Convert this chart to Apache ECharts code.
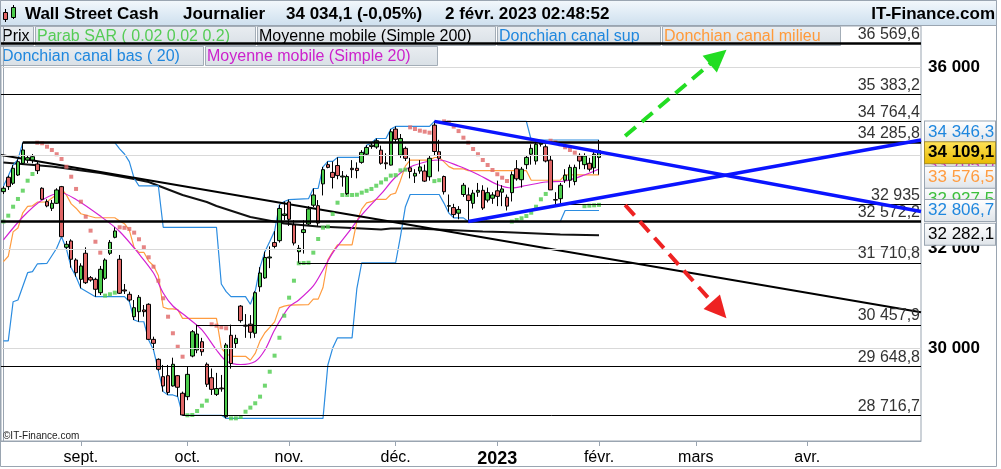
<!DOCTYPE html>
<html><head><meta charset="utf-8">
<script src="https://cdn.jsdelivr.net/npm/echarts@6/dist/echarts.min.js"></script>
<style>html,body{margin:0;padding:0;background:#fff}#c{width:1001px;height:469px}</style>
</head><body><div id="c"></div>
<script>
// ---------- DATA ----------
const firstDay = '2022-08-10';
const lastDay = '2023-05-04';
const closedDays = ['2022-12-26', '2023-01-02'];
const monthNames = ['2023', 'févr.', 'mars', 'avr.', 'mai', 'juin', 'juil.', 'août', 'sept.', 'oct.', 'nov.', 'déc.'];

const open = [33212,33523,33393,33573,33829,33902,33902,33814,33285,32996,32854,32961,33320,32032,32163,31768,31371,31907,31405,31371,
31100,31391,31907,32240,31783,31155,31067,30618,30718,30752,30866,30170,29781,29447,29466,29270,29466,29131,29067,29845,
29962,30124,29685,29427,29110,29230,28690,30250,30090,30830,30450,30470,30290,31220,31400,31810,32130,32170,32700,32990,
32500,31940,32340,32520,32920,32910,33380,33800,33630,33780,33530,33170,33720,33720,33850,34030,34200,34190,34120,33840,
33790,34590,34010,34160,33730,33550,33660,33660,33535,34680,34085,33540,32900,32870,32750,33150,33140,32960,33200,33240,
33030,33070,33230,33200,33090,33190,33710,33470,33800,34030,33880,34250,34195,33900,33040,33060,33460,33460,33430,33990,
33800,33830,33730,33960];
const close = [33285,33320,33720,33865,34124,33953,33975,33668,33047,32904,32961,33248,32253,32094,31783,31507,31645,31302,31357,31169,
31577,31768,32135,32373,31088,31135,30952,30798,31007,30718,30170,30092,29589,29270,29147,29685,29245,28723,29491,30320,
30275,29929,29302,29205,29220,29215,30060,29700,30190,30540,30430,30310,31100,31500,31820,31830,32050,32850,32733,32620,
32120,32010,32400,32840,33140,32540,33690,33740,33520,33560,33550,33540,33690,33670,34070,34180,34230,34330,33830,33820,
34530,34360,34380,33940,33650,33610,33750,33440,33940,34090,33940,33210,32910,32720,32830,33350,33020,33180,33240,32860,
33190,33140,33110,33270,32900,33580,33490,33700,33960,34160,34250,34280,33880,33250,33030,33350,33570,33740,33740,33880,
33990,33700,34030,34109.1];
const low = [33160,33250,33356,33551,33800,33836,33829,33595,33032,32876,32797,32946,32253,31997,31610,31425,31189,31276,31323,31019,
31053,31357,31872,32219,31074,31074,30918,30552,30518,30618,30157,29962,29563,29162,29099,29257,29067,28716.7,29000,29820,
29900,29850,29251,29099,29080,29160,28660,29600,30000,30500,30200,30190,30200,31120,31380,31600,32010,32130,32600,32480,
32070,31710.8,31900,32500,32880,32480,33130,33720,33280,33480,33320,33140,33510,33500,33820,34000,34150,34150,33800,33700,
33780,34300,33950,33880,33500,33400,33600,33420,33450,34000,33650,33150,32780,32650,32620,33100,32572.2,32850,33100,32820,
32980,32950,32900,32900,32806.7,33000,33450,33300,33700,33800,33800,34200,33850,33250,32935,32950,33400,33300,33350,33700,
33700,33650,33600,33580];
const high = [33330,33560,33790,33917,34285.8,34013,34035,33865,33306,33047,33032,33285,33335,32163,32199,31803,31700,32032,31439,31405,
31645,31803,32184,32451,31872,31276,31121,30952,31053,30852,30886,30223,29800,29672,29672,29813,29479,29162,29640,30354,
30457.9,30200,29720,29605,29520,29480,30100,30460,30260,30850,30670,30650,31130,31620,31940,32050,32370,32930,33000,33040,
32600,32080,32600,32900,33280,33030,33750,33870,33870,33960,33660,33580,33900,33850,34120,34230,34280,34380,34220,34050,
34590,34650,34480,34200,33950,33700,33900,33800,34000,34764.4,34350,33560,33150,32950,32900,33400,33300,33250,33400,33350,
33300,33200,33450,33350,33150,33650,33900,33750,34000,34250,34320,34330,34250,34000,33200,33400,33700,33800,33800,34050,
34050,33950,34100,34346.3];
const sar = [32572,32697,32888,33054,33233,33449,33595,34286,34273,34197,34124,34030,33924,33754,33536,33270,32996,32675,32380,32148,
31920,31040,31068,31100,32451,32440,32416,32338,32199,32032,31824,31630,31343,30987,30618,30290,30026,29832,28717,28722,
28797,28897,28991,30467,30440,30408,30389,28660,28660,28685,28784,28860,28942,29067,29275,29542,29852,30202,30638,30999,
31343,31700,31706,31711,31920,32205,32443,32464,32733,32974,33140,33140,33140,33145,33190,33230,33270,33340,33410,33480,
33560,33570,33675,33690,34630,34593,34555,34533,34510,33440,33460,34764,34741,34647,34546,34398,34286,34146,34030,33902,
33792,33683,33590,33514,33442,32572,32605,32641,32690,32760,32888,33047,33162,34330,34295,34251,34184,34124,34064,33975,
32900,32910,32918,32927.5];
// indicator lines: [candle index, value]
const ma20 = [[0,32184],[4,32668],[8,33032],[12,33183],[15,33043],[20,32689],[24,32363],[28,31893],[31,31500],[33,31094],[35,30832],
[38,30602],[41,30355],[44,29962],[46,29749],[49,29681],[52,29739],[54,29962],[56,30355],[59,30812],[61,30952],[64,31236],[66,31562],
[68,31914],[71,32310],[74,32712],[78,33162],[81,33530],[84,33749],[88,33880],[90,33902],[94,33770],[98,33585],[102,33367],[105,33291],
[108,33345],[112,33421],[116,33442],[120,33573],[123,33705]];
const ma200 = [[0,33847],[10,33759],[20,33617],[27,33486],[30,33421],[37,33140],[42,32989],[44,32904],[51,32669],[58,32531],[65,32468],
[72,32437],[78,32405],[80,32426],[85,32426],[92,32395],[99,32363],[103,32353],[115,32300],[123,32282.1]];
const donchUp = [[0,33330],[1,33550],[2,33790],[3,33917],[4,34286],[23,34286],[24,34150],[25,34035],[26,33865],[27,33500],[28,33335],
[32,33335],[33,32451],[44,32451],[45,31276],[46,31121],[47,31019],[50,31019],[51,30866],[52,31130],[53,31620],[54,31940],[55,32150],
[56,32370],[57,32930],[58,33000],[59,33040],[63,33060],[64,33280],[65,33280],[66,33750],[67,33870],[68,33870],[69,33960],[74,33960],
[75,34230],[76,34280],[77,34380],[79,34380],[80,34590],[81,34650],[88,34650],[89,34764],[108,34764],[109,34346.3],[123,34346.3]];
const donchLow = [[0,30140],[1,30140],[2,30918],[3,30952],[5,31507],[6,31528],[7,31686],[9,31700],[11,32011],[12,32253],[13,31997],
[14,31610],[15,31425],[16,31189],[19,31019],[25,31019],[26,30918],[27,30552],[28,30518],[29,30518],[30,30157],[31,29962],[32,29563],
[33,29162],[34,29099],[35,29099],[36,29067],[37,28717],[45,28717],[46,28660],[66,28660],[67,29672],[68,30000],[69,30200],[72,30200],
[73,31189],[74,31711],[81,31711],[82,32260],[83,32880],[84,33150],[90,33150],[91,32960],[92,32750],[93,32650],[95,32650],[96,32572],
[115,32572],[116,32806.7],[123,32806.7]];
const donchMid = [[0,31735],[1,31845],[2,32354],[3,32435],[4,32758],[5,32897],[6,32907],[7,32986],[9,32993],[11,33149],[12,33270],
[13,33142],[14,32948],[15,32856],[16,32738],[19,32653],[23,32653],[24,32585],[25,32527],[26,32392],[27,32026],[28,31927],[29,31927],
[30,31746],[31,31649],[32,31449],[33,30807],[34,30775],[35,30775],[36,30759],[37,30584],[44,30584],[45,29997],[46,29891],[47,29840],
[50,29840],[51,29763],[52,29895],[53,30140],[54,30300],[55,30405],[56,30515],[57,30795],[58,30830],[59,30850],[63,30860],[64,30970],
[65,30970],[66,31205],[67,31771],[68,31935],[69,32080],[72,32080],[73,32575],[74,32836],[75,32971],[76,32996],[77,33046],[79,33046],
[80,33151],[81,33181],[82,33455],[83,33765],[84,33900],[88,33900],[89,33957],[90,33957],[91,33862],[92,33757],[93,33707],[95,33707],
[96,33668],[108,33668],[109,33459],[115,33459],[116,33576.5],[123,33576.5]];
// support / resistance levels and the candle where each one starts
const levels =     [36569.6, 35383.2, 34764.4, 34285.8, 32935, 32572.2, 31710.8, 30457.9, 29648.8, 28716.7];
const levelStart = [-0.5,    -0.5,    89,      4,       114,   -0.5,    61,      40,      -0.5,    37];
const levelThick = [true,    false,   false,   true,    false, true,    false,   false,   false,   false];
// drawn trend lines [candle index, value]
const trendLine = [[-0.5, 34013], [189.5, 30708]];
const triangleTop = [[89, 34764.4], [189.5, 32786]];
const triangleBottom = [[96, 32572.2], [189.5, 34346]];
const arrowUp = [[128.4, 34436], [147.6, 36251]];
const arrowDown = [[128.4, 32925], [147.8, 30752]];
const yGridValues = [30000, 32000, 34000, 36000];
const yLabelValues = [30000, 32000, 36000];

// ---------- BUILD ----------
const F = "'Liberation Sans', Arial, Helvetica, sans-serif";
const GREEN = '#4ccc4c', RED = '#e06666', BLUE = '#2b8ce0', ORANGE = '#ff9c40', MAGENTA = '#d321d3', AXIS = '#9aa5b1';
function fmt(v, d) { const s = v.toFixed(d).split('.'); s[0] = s[0].replace(/\B(?=(\d{3})+(?!\d))/g, ' '); return s.join(','); }

const dates = [];
for (let t = Date.UTC(2022, 7, 10); t <= Date.UTC(2023, 4, 4); t += 86400000) {
  const d = new Date(t); const wd = d.getUTCDay(); const s = d.toISOString().slice(0, 10);
  if (wd === 0 || wd === 6 || closedDays.includes(s)) continue;
  dates.push(s);
}
const N = dates.length;
const isFirst = (i) => i > 0 && dates[i].slice(5, 7) !== dates[i - 1].slice(5, 7) && dates[i].slice(5, 7) !== '05';

const candles = open.map((o, i) => [o, close[i], low[i], high[i]]);
const sarData = sar.map((v, i) => ({ value: [i, v], itemStyle: { color: v < close[i] ? GREEN : RED } }));

const lastIdx = close.length - 1;
const boxBg = { type: 'linear', x: 0, y: 0, x2: 0, y2: 1, colorStops: [{ offset: 0, color: '#ffffff' }, { offset: 1, color: '#dfe4e9' }] };
function box(v, color, dy, extra) {
  return { yAxis: v, lineStyle: { color: 'rgba(0,0,0,0)', width: 0 }, label: Object.assign({
    show: true, position: 'end', distance: 4, formatter: fmt(v, 1), color: color, fontSize: 17, fontFamily: F,
    backgroundColor: boxBg, borderColor: AXIS, borderWidth: 1, padding: [2, 1, 1, 3], width: 66, lineHeight: 18,
    offset: [0, dy], align: 'left', overflow: 'none' }, extra || {}) };
}
const yellowBg = { type: 'linear', x: 0, y: 0, x2: 0, y2: 1, colorStops: [{ offset: 0, color: '#ffe45a' }, { offset: 1, color: '#e8b800' }] };

const levelLines = levels.map((v, k) => ([
  { coord: [levelStart[k], v], lineStyle: { color: '#000', width: levelThick[k] ? 2.5 : 1, type: 'solid' },
    label: { show: true, position: 'insideEndTop', distance: 1, formatter: fmt(v, Number.isInteger(v) ? 0 : 1), color: '#333', fontSize: 16, fontFamily: F } },
  { coord: [N - 0.5, v] }
]));

const gridLines = yGridValues.map(v => ({
  yAxis: v, lineStyle: { color: '#d9d9d9', width: 1, type: 'solid' },
  label: { show: yLabelValues.includes(v), position: 'end', distance: 7, formatter: fmt(v, 0), color: '#000', fontWeight: 'bold', fontSize: 17, fontFamily: F }
}));

const option = {
  animation: false,
  backgroundColor: '#fff',
  grid: { left: 1, right: 80, top: 26, bottom: 28, show: true, borderColor: AXIS, borderWidth: 1, backgroundColor: '#fff' },
  xAxis: [
    { type: 'category', data: dates, boundaryGap: true,
      axisLine: { show: true, lineStyle: { color: AXIS } },
      axisTick: { show: true, interval: (i) => isFirst(i), alignWithLabel: true, length: 5, lineStyle: { color: AXIS } },
      axisLabel: { interval: (i) => isFirst(i), margin: 9, fontSize: 16, fontFamily: F, color: '#000',
        formatter: (v) => { const m = +v.slice(5, 7); return m === 1 ? '{b|' + v.slice(0, 4) + '}' : monthNames[m - 1]; },
        rich: { b: { fontWeight: 'bold', fontSize: 18, fontFamily: F, color: '#000' } } },
      splitLine: { show: false } },
    { type: 'value', min: -0.5, max: N - 0.5, show: false }
  ],
  yAxis: { type: 'log', logBase: 10, min: 28240.6, max: 36988.8, position: 'right',
    axisLine: { show: true, lineStyle: { color: AXIS } }, axisTick: { show: false }, axisLabel: { show: false }, splitLine: { show: false } },
  series: [
    { name: 'grid', type: 'line', xAxisIndex: 1, data: [], z: 1, silent: true,
      markLine: { silent: true, symbol: 'none', animation: false, data: gridLines } },
    { name: 'MM200', type: 'line', xAxisIndex: 1, data: ma200, showSymbol: false, z: 2, lineStyle: { color: '#111', width: 2 } },
    { name: 'Donchian sup', type: 'line', xAxisIndex: 1, data: donchUp, showSymbol: false, z: 2, lineStyle: { color: BLUE, width: 1.2 } },
    { name: 'Donchian bas', type: 'line', xAxisIndex: 1, data: donchLow, showSymbol: false, z: 2, lineStyle: { color: BLUE, width: 1.2 } },
    { name: 'Donchian milieu', type: 'line', xAxisIndex: 1, data: donchMid, showSymbol: false, z: 2, lineStyle: { color: ORANGE, width: 1.2 } },
    { name: 'MM20', type: 'line', xAxisIndex: 1, data: ma20, showSymbol: false, z: 2, smooth: 0.3, lineStyle: { color: MAGENTA, width: 1.2 } },
    { name: 'Tendance', type: 'line', xAxisIndex: 1, data: trendLine, showSymbol: false, z: 3, lineStyle: { color: '#000', width: 2 } },
    { name: 'SAR', type: 'scatter', data: sarData, symbol: 'rect', symbolSize: 4, z: 3 },
    { name: 'Prix', type: 'candlestick', data: candles, barWidth: 4, z: 4,
      itemStyle: { color: GREEN, color0: RED, borderColor: '#000', borderColor0: '#000', borderWidth: 1 } },
    { name: 'levels', type: 'line', xAxisIndex: 1, data: [], z: 5, silent: true,
      markLine: { silent: true, symbol: 'none', animation: false, data: levelLines } },
    { name: 'Triangle haut', type: 'line', xAxisIndex: 1, data: triangleTop, showSymbol: false, z: 6, lineStyle: { color: '#0a14ff', width: 3.5 } },
    { name: 'Triangle bas', type: 'line', xAxisIndex: 1, data: triangleBottom, showSymbol: false, z: 6, lineStyle: { color: '#0a14ff', width: 3.5 } },
    { name: 'arrows', type: 'line', xAxisIndex: 1, data: [], z: 6, silent: true,
      markLine: { silent: true, symbol: ['none', 'triangle'], symbolSize: [22, 22], animation: false, label: { show: false },
        data: [
          [{ coord: arrowUp[0], lineStyle: { color: '#22dd22', width: 4, type: [14, 8] }, itemStyle: { color: '#22dd22' } }, { coord: arrowUp[1] }],
          [{ coord: arrowDown[0], lineStyle: { color: '#ee2222', width: 4, type: [14, 8] }, itemStyle: { color: '#ee2222' } }, { coord: arrowDown[1] }]
        ] } },
    { name: 'boxes', type: 'line', xAxisIndex: 1, data: [], z: 10, zlevel: 1, silent: true,
      markLine: { silent: true, symbol: 'none', animation: false, data: [
        box(ma200[ma200.length - 1][1], '#000', -1),
        box(sar[lastIdx], '#3cbf3c', -6),
        box(donchLow[donchLow.length - 1][1], '#1f87de', 0),
        box(ma20[ma20.length - 1][1], MAGENTA, -4),
        box(donchMid[donchMid.length - 1][1], ORANGE, 2.5),
        box(donchUp[donchUp.length - 1][1], '#1f87de', -8),
        box(close[lastIdx], '#000', 2, { backgroundColor: yellowBg, fontWeight: 'bold', borderColor: '#a08a30' })
      ] } }
  ],
  graphic: []
};

// header, legends, frame (layout only)
const legendBg = { type: 'linear', x: 0, y: 0, x2: 0, y2: 1, colorStops: [{ offset: 0, color: '#e9edf1' }, { offset: 1, color: '#d9e0e6' }] };
function legendBox(x, y, w, text, color) {
  return { type: 'group', z: 100, children: [
    { type: 'rect', shape: { x: x + 0.5, y: y + 0.5, width: w, height: 19 }, style: { fill: legendBg, stroke: '#a3adb7', lineWidth: 1 } },
    { type: 'text', x: x + 2, y: y + 10.5, style: { text: text, fill: color, font: '16px ' + F, textVerticalAlign: 'middle' } }
  ] };
}
option.graphic = [
  { type: 'rect', z: 100, shape: { x: 0.5, y: 0.5, width: 996, height: 25 }, style: { fill: { type: 'linear', x: 0, y: 0, x2: 0, y2: 1, colorStops: [{ offset: 0, color: '#f3f8fc' }, { offset: 1, color: '#cddfee' }] }, stroke: AXIS, lineWidth: 1 } },
  { type: 'line', z: 101, shape: { x1: 5.5, y1: 9, x2: 5.5, y2: 22 }, style: { stroke: '#000', lineWidth: 1 } },
  { type: 'rect', z: 102, shape: { x: 3.5, y: 12.5, width: 4, height: 7 }, style: { fill: RED, stroke: '#000', lineWidth: 1 } },
  { type: 'line', z: 101, shape: { x1: 13.5, y1: 5, x2: 13.5, y2: 19 }, style: { stroke: '#000', lineWidth: 1 } },
  { type: 'rect', z: 102, shape: { x: 11.5, y: 7.5, width: 4, height: 10 }, style: { fill: GREEN, stroke: '#000', lineWidth: 1 } },
  { type: 'text', z: 101, x: 25, y: 14, style: { text: 'Wall Street Cash', fill: '#000', font: 'bold 17px ' + F, textVerticalAlign: 'middle' } },
  { type: 'text', z: 101, x: 183, y: 14, style: { text: 'Journalier', fill: '#000', font: 'bold 17px ' + F, textVerticalAlign: 'middle' } },
  { type: 'text', z: 101, x: 286, y: 14, style: { text: '34 034,1 (-0,05%)', fill: '#000', font: 'bold 17px ' + F, textVerticalAlign: 'middle' } },
  { type: 'text', z: 101, x: 445, y: 14, style: { text: '2 févr. 2023 02:48:52', fill: '#000', font: 'bold 17px ' + F, textVerticalAlign: 'middle' } },
  { type: 'text', z: 101, x: 995, y: 14, style: { text: 'IT-Finance.com', fill: '#000', font: 'bold 17px ' + F, textVerticalAlign: 'middle', textAlign: 'right' } },
  legendBox(0, 26, 33, 'Prix', '#000'),
  legendBox(35, 26, 220, 'Parab SAR ( 0.02 0.02 0.2)', '#55cc55'),
  legendBox(257, 26, 238, 'Moyenne mobile (Simple 200)', '#000'),
  legendBox(497, 26, 163, 'Donchian canal sup', '#1f87de'),
  legendBox(662, 26, 178, 'Donchian canal milieu', '#ff9a3a'),
  legendBox(0, 46, 203, 'Donchian canal bas ( 20)', '#1f87de'),
  legendBox(205, 46, 232, 'Moyenne mobile (Simple 20)', '#cc22cc'),
  { type: 'text', z: 100, x: 3, y: 436, style: { text: '©IT-Finance.com', fill: '#222', font: '10px ' + F, textVerticalAlign: 'middle' } },
  { type: 'rect', z: 1, silent: true, shape: { x: 0.5, y: 0.5, width: 996, height: 466 }, style: { fill: 'none', stroke: AXIS, lineWidth: 1 } }
];

const chart = echarts.init(document.getElementById('c'), null, { renderer: 'canvas' });
chart.setOption(option);
</script>
</body></html>
